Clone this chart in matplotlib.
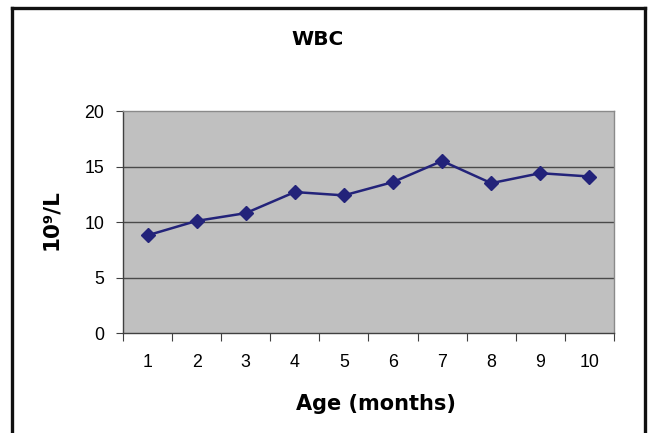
import matplotlib.pyplot as plt
from matplotlib.lines import Line2D

# WBC-verdier per alder
months = [1, 2, 3, 4, 5, 6, 7, 8, 9, 10]
wbc = [8.8, 10.1, 10.8, 12.7, 12.4, 13.6, 15.5, 13.5, 14.4, 14.1]
y_ticks = [0, 5, 10, 15, 20]

fig = plt.figure(figsize=(6.5, 4.33), dpi=100)
ax = fig.add_axes([0.1892, 0.2309, 0.7554, 0.5127])
ax.set_facecolor('#c0c0c0')

ax.plot(months, wbc, color='#23237a', lw=1.8, marker='D', markersize=7,
        markerfacecolor='#23237a', markeredgecolor='#23237a', zorder=3)

ax.set_xlim(0.5, 10.5)
ax.set_ylim(0, 20)

# gridlinjer
for v in y_ticks[1:-1]:
    ax.axhline(v, color='#4a4a4a', lw=1.0, zorder=1)

ax.set_yticks(y_ticks)
ax.set_yticklabels([str(v) for v in y_ticks], family='Liberation Sans', fontsize=12.8)
ax.tick_params(axis='y', length=5, width=0.8, color='#404040', pad=8.5)

# kategorigrenser som hovedmerker, etiketter i midten
ax.set_xticks([m - 0.5 for m in months] + [10.5])
ax.set_xticklabels([])
ax.tick_params(axis='x', which='major', length=5.5, width=0.8, color='#404040')
ax.set_xticks(months, minor=True)
ax.set_xticklabels([str(m) for m in months], minor=True,
                   family='Liberation Sans', fontsize=12.8)
ax.tick_params(axis='x', which='minor', length=0, pad=15)

for side in ['top', 'right']:
    ax.spines[side].set_color('#8a8a8a')
    ax.spines[side].set_linewidth(1.0)
for side in ['left', 'bottom']:
    ax.spines[side].set_color('#404040')
    ax.spines[side].set_linewidth(1.0)

fig.text(0.488, 0.908, 'WBC', ha='center', va='center',
         fontsize=14.5, fontweight='bold')
fig.text(0.079, 0.494, '10⁹/L', ha='center', va='center', rotation=90,
         fontsize=15.5, fontweight='bold')
fig.text(0.579, 0.068, 'Age (months)', ha='center', va='center',
         fontsize=15, fontweight='bold')

# ytre ramme
for xs, ys in [([12/650, 12/650], [0, 1 - 8/433]),
               ([12/650, 645/650], [1 - 8/433, 1 - 8/433]),
               ([645/650, 645/650], [0, 1 - 8/433])]:
    fig.add_artist(Line2D(xs, ys, color='#111111', lw=2.4))

fig.savefig('out.png', dpi=100)
